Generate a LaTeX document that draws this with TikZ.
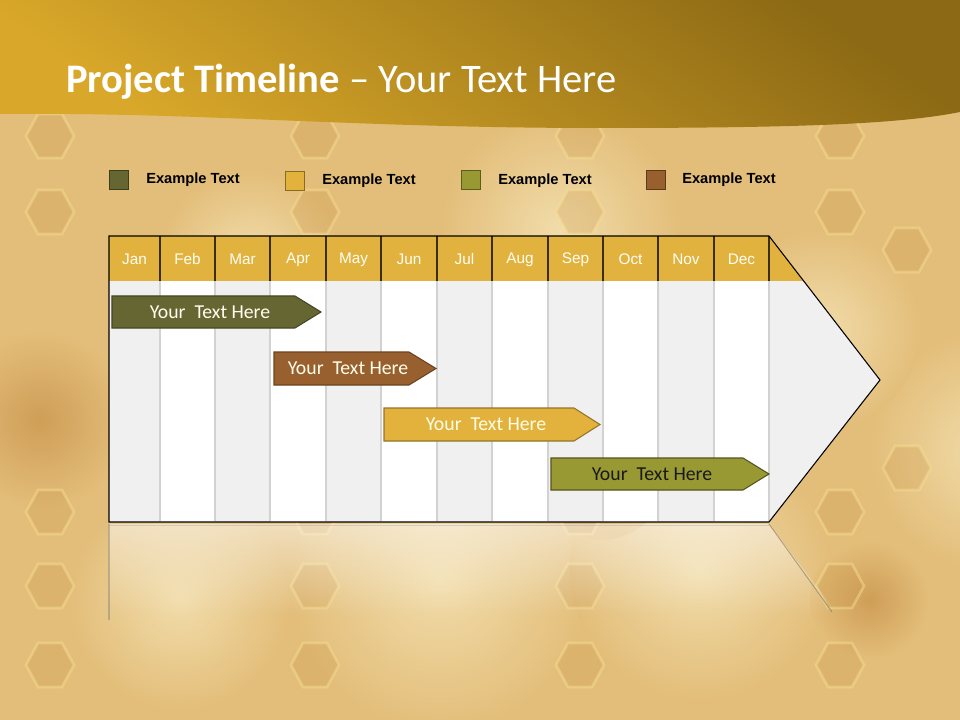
\documentclass[tikz,border=0pt]{standalone}
\usepackage{fontspec}
\setmainfont{Carlito}
\newfontfamily\arialf{Liberation Sans}
\usetikzlibrary{fadings}
\definecolor{bgbase}{HTML}{E3BE7A}
\definecolor{bglight}{HTML}{F1DCAA}
\definecolor{bgdark}{HTML}{CF9E57}
\definecolor{bandlight}{HTML}{D9A82A}
\definecolor{banddark}{HTML}{8C6914}
\definecolor{hdrgold}{HTML}{E2B23E}
\definecolor{hdrline}{HTML}{3C2E0A}
\definecolor{bodygray}{HTML}{F0F0F0}
\definecolor{collinegray}{HTML}{D2D2D2}
\definecolor{cOliveDark}{HTML}{666633}
\definecolor{cGold}{HTML}{E3B23C}
\definecolor{cOlive}{HTML}{999933}
\definecolor{cBrown}{HTML}{99602F}
\definecolor{hexfill}{HTML}{C48E40}
\definecolor{hexrim}{HTML}{F8E196}
\newcommand\hexcell[2]{\path[hexst] (#1-24,#2) -- (#1-12,#2-22) -- (#1+12,#2-22) -- (#1+24,#2) -- (#1+12,#2+22) -- (#1-12,#2+22) -- cycle;}
\begin{document}
\begin{tikzpicture}[x=0.75pt,y=-0.75pt,
  hexst/.style={fill=hexfill,fill opacity=.22,draw=hexrim,draw opacity=.45,line width=2pt},
  legsq/.style={draw=#1!60!black,fill=#1,line width=0.6pt},
  legtxt/.style={anchor=west,inner sep=0pt,font=\arialf\bfseries\fontsize{11}{13}\selectfont,text=black},
  month/.style={inner sep=0pt,font=\arialf\fontsize{11.5}{13}\selectfont,text=white!96!yellow},
  bartxt/.style={inner sep=0pt,font=\fontsize{14.8}{17}\selectfont},
  barshape/.style={line width=0.8pt}
]
\useasboundingbox (0,0) rectangle (960,720);
% background
\fill[bgbase] (0,0) rectangle (960,720);
\foreach \cx/\cy/\r in {440/580/150,700/570/130,180/600/110,990/450/120,560/230/120,820/330/100,250/260/90}
  \shade[inner color=bglight,outer color=bgbase] (\cx,\cy) circle (\r);
\foreach \cx/\cy/\r in {40/420/90,330/420/70,600/470/70,870/600/60}
  \shade[inner color=bgdark,outer color=bgbase] (\cx,\cy) circle (\r);
\foreach \hx in {50,315,580,840}{
  \foreach \hy in {136,212,512,586,665}{\hexcell{\hx}{\hy}}}
\foreach \hy in {250,468}{\hexcell{907}{\hy}}
% title band
\shade[top color=banddark,bottom color=bandlight,shading angle=-35]
  (0,0) -- (960,0) -- (960,112) .. controls (900,124) and (800,128) .. (600,128)
  .. controls (350,128) and (200,112) .. (0,114) -- cycle;
\node[anchor=base west,inner sep=0pt,text=white,font=\fontsize{30.4}{34}\selectfont] (title) at (66,93)
  {\textbf{Project Timeline} – Your Text Here};
% legend
\node[legsq=cOliveDark,minimum size=18.5*0.75pt,inner sep=0pt] (sq1) at (119,180) {};
\node[legtxt] (lg1) at (146,180) {Example Text};
\node[legsq=cGold,minimum size=18.5*0.75pt,inner sep=0pt] (sq2) at (295,181) {};
\node[legtxt] (lg2) at (322,181) {Example Text};
\node[legsq=cOlive,minimum size=18.5*0.75pt,inner sep=0pt] (sq3) at (471,180) {};
\node[legtxt] (lg3) at (498,181) {Example Text};
\node[legsq=cBrown,minimum size=18.5*0.75pt,inner sep=0pt] (sq4) at (656,180) {};
\node[legtxt] (lg4) at (682,180) {Example Text};
% reflection
\fill[white,opacity=.5,path fading=south] (109,524) -- (769,524) -- (840,615) -- (109,615) -- cycle;
\draw[black!60,opacity=.35,line width=0.8pt] (109,524) -- (109,620);
\draw[black!70,opacity=.4,line width=0.7pt] (769,524) -- (832,612);
\draw[black!50,opacity=.25,line width=1.2pt] (109,525.5) -- (769,525.5);
% table body
\fill[bodygray] (109,236) -- (769,236) -- (880,380) -- (769,522) -- (109,522) -- cycle;
\foreach \l/\r [count=\i] in {109/160,160/215,215/270,270/326,326/381,381/437,437/492,492/548,548/603,603/658,658/714,714/769}{
  \ifodd\i\else\fill[white] (\l,281) rectangle (\r,522);\fi}
\foreach \xx in {160,215,270,326,381,437,492,548,603,658,714,769}
  \draw[collinegray,line width=1.1pt] (\xx,281) -- (\xx,521);
% header
\fill[hdrgold] (109,236) -- (769,236) -- (803.7,281) -- (109,281) -- cycle;
\foreach \xx in {160,215,270,326,381,437,492,548,603,658,714,769}
  \draw[hdrline,line width=0.9pt] (\xx,236) -- (\xx,281);
\draw[black,line width=0.8pt] (109,236) -- (769,236) -- (880,380) -- (769,522) -- (109,522) -- cycle;
\foreach \m/\c [count=\i] in {Jan/134.5,Feb/187.5,Mar/242.5,Apr/298,May/353.5,Jun/409,Jul/464.5,Aug/520,Sep/575.5,Oct/630.5,Nov/686,Dec/741.5}
  \node[month] (m\i) at (\c,259.5) {\m};
% bars
\draw[barshape,fill=cOliveDark,draw=cOliveDark!70!black] (112,296) -- (295,296) -- (321,312) -- (295,328) -- (112,328) -- cycle;
\node[bartxt,text=white!94!yellow] (b1) at (210,312) {Your\ \ Text Here};
\draw[barshape,fill=cBrown,draw=cBrown!70!black] (274,352) -- (409,352) -- (436,368.5) -- (409,385) -- (274,385) -- cycle;
\node[bartxt,text=white!92!yellow] (b2) at (348,368.5) {Your\ \ Text Here};
\draw[barshape,fill=cGold,draw=cGold!65!black] (384,408) -- (574,408) -- (600,424.5) -- (574,441) -- (384,441) -- cycle;
\node[bartxt,text=white!90!yellow] (b3) at (486,424.5) {Your\ \ Text Here};
\draw[barshape,fill=cOlive,draw=cOlive!55!black] (551,458) -- (743,458) -- (769,474) -- (743,490) -- (551,490) -- cycle;
\node[bartxt,text=black!90] (b4) at (652,474) {Your\ \ Text Here};
\end{tikzpicture}
\end{document}
